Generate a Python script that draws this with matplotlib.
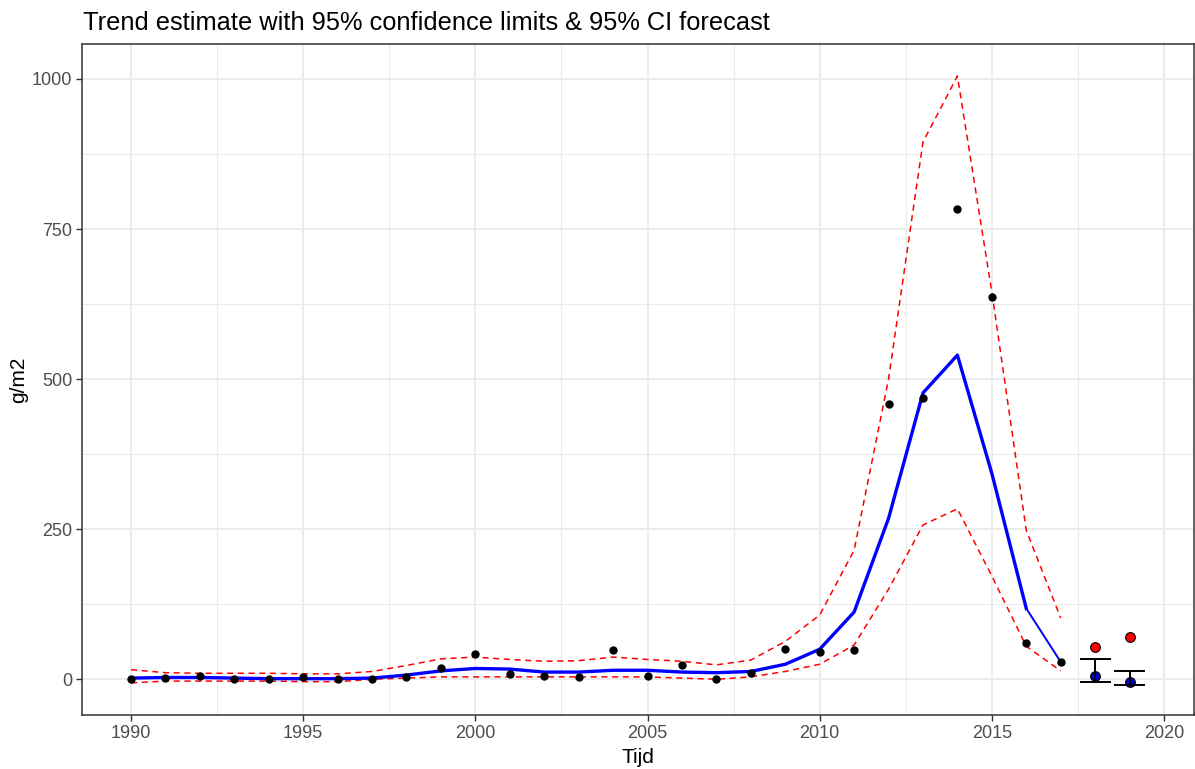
import matplotlib
matplotlib.use("Agg")
import matplotlib.pyplot as plt
from matplotlib.ticker import MultipleLocator
import numpy as np

plt.rcParams['font.family'] = ['Liberation Sans', 'DejaVu Sans']

# ---- data ----
years = list(range(1990, 2018))
observed = [0, 2, 5, 0, 0, 3, 0, 0, 4, 19, 42, 8, 6, 3, 49, 6, 23, 0, 10, 50,
            45, 48, 459, 468, 784, 637, 60, 29]
trend = [2, 3, 3, 2, 1, 1, 1, 2, 7, 14, 18, 17, 12, 12, 15, 15, 12, 11, 13, 25,
         50, 112, 268, 477, 540, 343, 118, 29]
upper = [16, 11, 10, 10, 10, 9, 9, 13, 23, 34, 37, 33, 30, 31, 37, 33, 30, 24, 32, 63,
         107, 215, 500, 895, 1005, 645, 248, 102]
lower = [-6, -3, -3, -3, -3, -4, -4, 0, 2, 4, 4, 4, 4, 4, 4, 4, 2, 0, 4, 13,
         25, 57, 150, 257, 284, 172, 55, 14]

fc_years = [2018, 2019]
fc_observed = [54, 71]
fc_pred = [5, -4]
fc_upper = [33, 14]
fc_lower = [-5, -9]

xticks = [1990, 1995, 2000, 2005, 2010, 2015, 2020]
yticks = [0, 250, 500, 750, 1000]

# ---- figure ----
W, H = 1195, 769
fig = plt.figure(figsize=(W / 100, H / 100), dpi=100)
ax = fig.add_axes([82 / W, 1 - 715 / H, (1194 - 82) / W, (715 - 44) / H])

ax.set_xlim(1988.577, 2020.871)
ax.set_ylim(-59.5, 1058.3)

ax.xaxis.set_minor_locator(MultipleLocator(2.5))
ax.yaxis.set_minor_locator(MultipleLocator(125))
ax.set_xticks(xticks)
ax.set_yticks(yticks)
ax.set_xticklabels([str(t) for t in xticks])
ax.set_yticklabels([str(t) for t in yticks])

ax.grid(which='major', color='#EBEBEB', lw=1.3, zorder=0)
ax.grid(which='minor', color='#EBEBEB', lw=0.8, zorder=0)
ax.set_axisbelow(True)
ax.tick_params(which='minor', length=0)
ax.tick_params(which='major', length=4, width=1.0, color='#333333',
               labelsize=13, labelcolor='#4D4D4D', pad=3)
for s in ax.spines.values():
    s.set_color('#333333')
    s.set_linewidth(1.1)

dash = (0, (4, 3))
ax.plot(years, upper, color='red', lw=1.1, ls=dash, zorder=2)
ax.plot(years, lower, color='red', lw=1.1, ls=dash, zorder=2)
ax.plot(years[:-1], trend[:-1], color='blue', lw=2.4, zorder=3,
        solid_joinstyle='round')
ax.plot(years[-2:], trend[-2:], color='blue', lw=1.4, zorder=3)
ax.plot(years, observed, 'o', color='black', ms=5, zorder=4)

ax.plot(fc_years, fc_observed, 'o', mfc='red', mec='black', mew=0.8, ms=7, zorder=4)
ax.plot(fc_years, fc_pred, 'o', mfc='#0000CC', mec='black', mew=0.8, ms=7, zorder=4)
ax.vlines(fc_years, fc_lower, fc_upper, color='black', lw=1.4, zorder=5)
fx = np.array(fc_years, dtype=float)
ax.hlines(fc_upper, fx - 0.45, fx + 0.45, color='black', lw=1.4, zorder=5)
ax.hlines(fc_lower, fx - 0.45, fx + 0.45, color='black', lw=1.4, zorder=5)

fig.text(83 / W, 1 - 29.5 / H,
         'Trend estimate with 95% confidence limits & 95% CI forecast',
         ha='left', va='baseline', fontsize=18.3, color='black')
fig.text(637.5 / W, 1 - 763 / H, 'Tijd', ha='center', va='baseline',
         fontsize=15, color='black')
fig.text(18.5 / W, 1 - 380 / H, 'g/m2', ha='center', va='center', rotation=90,
         fontsize=15, color='black')

fig.savefig('out.png', dpi=100)
